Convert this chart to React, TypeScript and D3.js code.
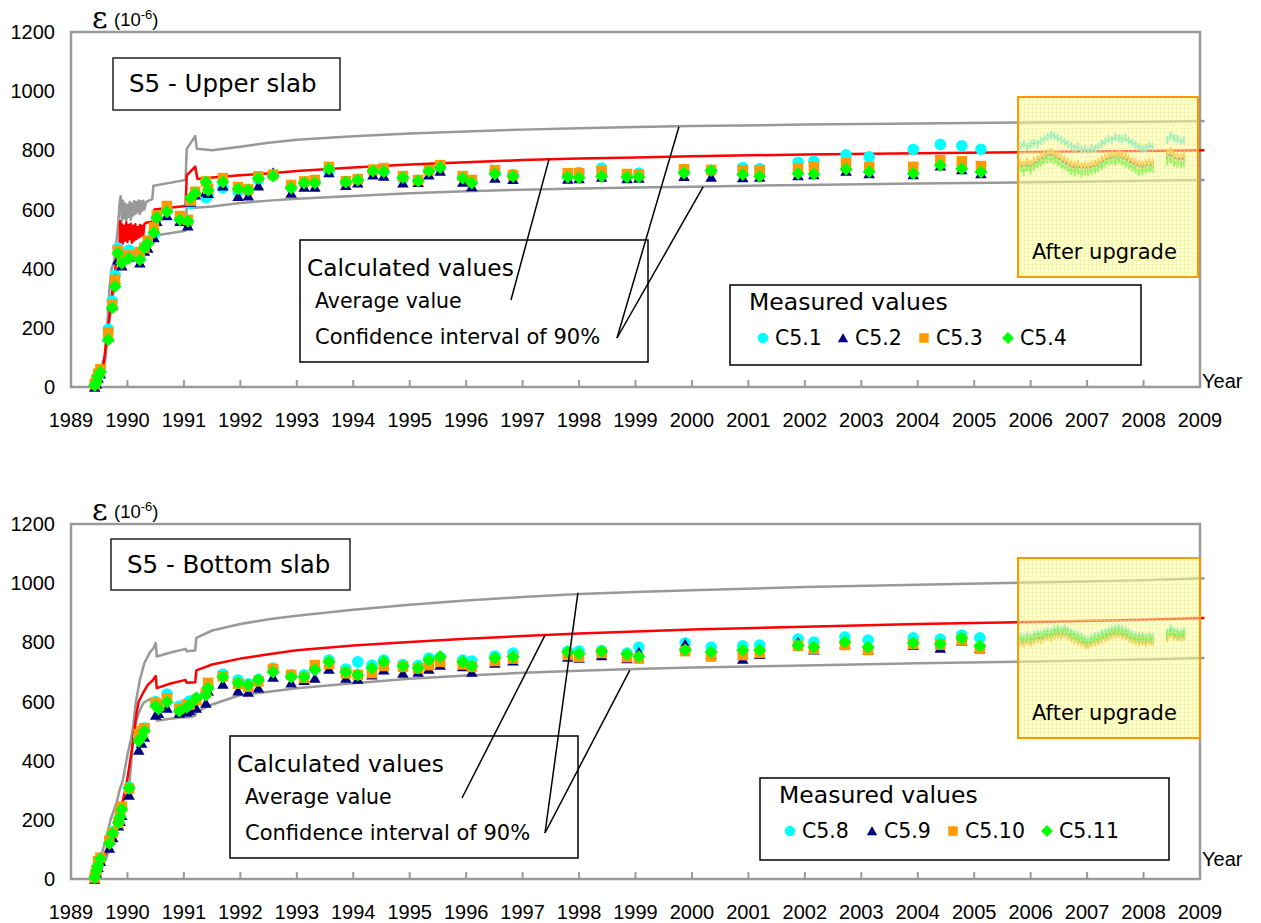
import React from 'react';
import * as d3 from 'd3';

// ---------- axis ----------
const yearTicks = [1989, 1990, 1991, 1992, 1993, 1994, 1995, 1996, 1997, 1998, 1999, 2000, 2001, 2002, 2003, 2004, 2005, 2006, 2007, 2008, 2009];
const valueTicks = [0, 200, 400, 600, 800, 1000, 1200];

// ---------- TOP PANEL: measured values ----------
const topYears = [1989.42, 1989.45, 1989.48, 1989.52, 1989.66, 1989.73, 1989.78, 1989.83, 1989.9, 1990.03, 1990.22, 1990.3, 1990.36, 1990.47, 1990.52, 1990.7, 1990.93, 1991.07, 1991.12, 1991.2, 1991.39, 1991.43, 1991.69, 1991.96, 1992.14, 1992.32, 1992.58, 1992.9, 1993.13, 1993.32, 1993.57, 1993.87, 1994.08, 1994.35, 1994.54, 1994.88, 1995.15, 1995.34, 1995.54, 1995.94, 1996.1, 1996.51, 1996.83, 1997.8, 1998.0, 1998.4, 1998.85, 1999.06, 1999.86, 2000.34, 2000.9, 2001.2, 2001.88, 2002.16, 2002.73, 2003.14, 2003.92, 2004.4, 2004.78, 2005.12];
const topC51 = [5, 20, 40, 55, 195, 290, 378, 470, 450, 463, 440, 475, 490, 515, 570, 600, 570, 555, 620, 650, 640, 650, 673, 660, 662, 700, 715, 675, 690, 695, 728, 690, 700, 730, 730, 705, 698, 730, 742, 710, 695, 728, 718, 715, 725, 740, 712, 723, 728, 730, 742, 738, 760, 763, 785, 778, 803, 820, 815, 804];
const topC52 = [0, 10, 30, 45, 170, 275, 365, 430, 410, 440, 420, 460, 470, 505, 560, 580, 560, 545, 625, 650, 660, 655, 680, 645, 646, 680, 725, 656, 676, 676, 725, 682, 690, 717, 713, 690, 692, 717, 730, 693, 678, 706, 702, 703, 705, 710, 705, 706, 712, 710, 708, 710, 715, 718, 730, 722, 718, 748, 735, 722];
const topC53 = [10, 25, 45, 60, 185, 280, 362, 460, 440, 445, 456, 470, 495, 540, 580, 612, 578, 565, 630, 660, 695, 670, 706, 676, 668, 712, 718, 683, 695, 700, 744, 696, 703, 735, 740, 713, 700, 733, 750, 713, 700, 733, 716, 723, 723, 730, 720, 718, 736, 734, 733, 733, 740, 744, 757, 744, 744, 767, 763, 747];
const topC54 = [5, 15, 35, 50, 160, 268, 340, 452, 418, 436, 430, 470, 485, 522, 573, 592, 565, 560, 640, 655, 693, 665, 693, 670, 666, 706, 713, 673, 690, 690, 738, 693, 700, 730, 728, 708, 696, 730, 742, 706, 690, 720, 712, 710, 707, 712, 710, 710, 723, 732, 718, 712, 722, 720, 736, 728, 722, 750, 738, 727];

// ---------- BOTTOM PANEL: measured values ----------
const botYears = [1989.42, 1989.45, 1989.48, 1989.52, 1989.68, 1989.74, 1989.84, 1989.87, 1989.9, 1990.03, 1990.2, 1990.25, 1990.3, 1990.5, 1990.55, 1990.7, 1990.92, 1991.05, 1991.1, 1991.22, 1991.39, 1991.43, 1991.69, 1991.96, 1992.14, 1992.32, 1992.58, 1992.9, 1993.13, 1993.32, 1993.57, 1993.87, 1994.08, 1994.33, 1994.54, 1994.88, 1995.15, 1995.34, 1995.54, 1995.94, 1996.1, 1996.51, 1996.83, 1997.8, 1998.0, 1998.4, 1998.85, 1999.06, 1999.88, 2000.34, 2000.9, 2001.2, 2001.88, 2002.16, 2002.71, 2003.12, 2003.92, 2004.4, 2004.78, 2005.1];
const botC58 = [5, 25, 50, 70, 125, 160, 195, 210, 240, 310, 480, 495, 510, 600, 590, 625, 585, 590, 602, 610, 630, 650, 693, 673, 660, 675, 713, 690, 690, 710, 740, 710, 734, 723, 740, 725, 722, 747, 750, 740, 737, 754, 764, 770, 771, 772, 764, 784, 798, 784, 788, 791, 811, 801, 818, 808, 815, 811, 825, 815];
const botC59 = [0, 20, 40, 60, 105, 140, 180, 195, 215, 284, 436, 460, 480, 554, 560, 578, 561, 565, 570, 578, 595, 635, 659, 636, 632, 646, 683, 663, 672, 679, 710, 679, 676, 690, 707, 696, 700, 710, 723, 718, 700, 730, 738, 750, 747, 755, 745, 767, 794, 760, 744, 760, 801, 775, 795, 775, 790, 781, 805, 780];
const botC510 = [5, 30, 60, 72, 130, 158, 190, 225, 245, 305, 490, 500, 510, 595, 585, 610, 575, 590, 590, 605, 630, 663, 685, 660, 650, 668, 710, 690, 680, 723, 727, 695, 690, 696, 720, 717, 712, 723, 734, 725, 717, 737, 745, 757, 751, 764, 750, 745, 770, 752, 757, 764, 788, 778, 791, 774, 794, 792, 808, 778];
const botC511 = [5, 28, 45, 68, 120, 155, 190, 210, 235, 307, 466, 480, 500, 585, 575, 598, 568, 581, 588, 612, 622, 646, 683, 663, 656, 673, 700, 683, 683, 707, 734, 700, 690, 713, 734, 720, 713, 740, 751, 734, 720, 747, 751, 767, 761, 770, 760, 752, 774, 767, 774, 774, 790, 784, 801, 784, 798, 794, 815, 788];

// ---------- after-upgrade continuous monitoring ----------
const monitorYears = [2005.82, 2005.88, 2005.94, 2006.0, 2006.06, 2006.12, 2006.18, 2006.24, 2006.3, 2006.36, 2006.42, 2006.48, 2006.54, 2006.6, 2006.66, 2006.72, 2006.78, 2006.84, 2006.9, 2006.96, 2007.02, 2007.08, 2007.14, 2007.2, 2007.26, 2007.32, 2007.38, 2007.44, 2007.5, 2007.56, 2007.62, 2007.68, 2007.74, 2007.8, 2007.86, 2007.92, 2007.98, 2008.04, 2008.1, 2008.16, 2008.42, 2008.48, 2008.54, 2008.6, 2008.66, 2008.72];
const topMonC51 = [815, 822, 812, 820, 826, 822, 832, 838, 845, 852, 848, 842, 836, 828, 820, 815, 808, 812, 803, 806, 800, 808, 804, 812, 822, 830, 838, 835, 845, 840, 838, 842, 832, 825, 818, 812, 805, 808, 815, 812, 835, 850, 842, 838, 830, 834];
const topMonC52 = [750, 745, 752, 748, 756, 762, 770, 776, 782, 786, 780, 774, 766, 760, 752, 746, 742, 744, 740, 742, 740, 745, 748, 752, 760, 768, 772, 778, 775, 780, 776, 770, 764, 758, 752, 748, 745, 750, 752, 750, 780, 786, 776, 772, 770, 774];
const topMonC53 = [758, 752, 762, 755, 765, 770, 778, 785, 790, 795, 788, 782, 775, 768, 760, 755, 750, 752, 746, 750, 748, 752, 755, 760, 768, 775, 780, 786, 782, 788, 784, 778, 772, 765, 760, 755, 752, 757, 760, 758, 790, 798, 785, 780, 778, 782];
const topMonC54 = [738, 728, 742, 732, 745, 752, 758, 765, 770, 772, 766, 760, 752, 745, 738, 730, 726, 732, 722, 728, 725, 730, 735, 740, 748, 755, 760, 765, 762, 768, 760, 755, 748, 742, 735, 728, 730, 735, 738, 736, 762, 770, 758, 755, 752, 756];
const botMonC58 = [820, 818, 824, 818, 826, 830, 829, 835, 838, 836, 844, 846, 842, 848, 840, 834, 828, 824, 818, 812, 808, 816, 820, 824, 830, 834, 838, 844, 846, 848, 844, 840, 834, 828, 824, 820, 822, 818, 824, 820, 834, 846, 838, 836, 834, 838];
const botMonC59 = [806, 802, 809, 804, 812, 816, 814, 820, 824, 822, 829, 832, 828, 834, 826, 820, 814, 809, 804, 798, 794, 802, 806, 809, 816, 820, 824, 829, 832, 834, 830, 826, 819, 814, 809, 806, 809, 804, 809, 806, 819, 832, 824, 822, 820, 824];
const botMonC510 = [800, 796, 803, 798, 806, 810, 808, 814, 818, 816, 822, 826, 822, 828, 820, 814, 808, 803, 798, 792, 788, 796, 800, 803, 810, 814, 818, 823, 826, 828, 824, 820, 813, 808, 803, 800, 803, 798, 803, 800, 813, 826, 818, 816, 814, 818];
const botMonC511 = [812, 808, 815, 810, 818, 822, 820, 826, 830, 828, 835, 838, 834, 840, 832, 826, 820, 815, 810, 805, 800, 808, 812, 815, 822, 826, 830, 835, 838, 840, 836, 832, 825, 820, 815, 812, 815, 810, 815, 812, 825, 838, 830, 828, 826, 830];

// ---------- calculated curves (top) ----------
const topAvgYears = [1989.4, 1989.5, 1989.56, 1989.6, 1989.64, 1989.68, 1989.72, 1989.76, 1989.8, 1989.84, 1989.86, 1989.87, 1989.88, 1989.9, 1989.92, 1989.94, 1989.96, 1989.98, 1990.0, 1990.02, 1990.04, 1990.06, 1990.08, 1990.1, 1990.12, 1990.14, 1990.16, 1990.18, 1990.2, 1990.22, 1990.24, 1990.26, 1990.28, 1990.3, 1990.33, 1990.4, 1990.47, 1990.48, 1990.75, 1991.03, 1991.05, 1991.2, 1991.24, 1991.5, 1992, 1992.5, 1993, 1994, 1995, 1996, 1997, 1998, 1999, 2000, 2002, 2004, 2006, 2008, 2009.08];
const topAvg = [0, 20, 60, 110, 180, 240, 300, 370, 420, 470, 480, 560, 490, 550, 485, 545, 495, 555, 490, 548, 500, 552, 488, 545, 495, 550, 500, 540, 505, 548, 510, 545, 512, 550, 555, 558, 560, 600, 606, 612, 715, 745, 703, 708, 716, 722, 730, 742, 752, 760, 767, 772, 776, 780, 786, 790, 794, 798, 800];
const topUpYears = [1989.4, 1989.5, 1989.56, 1989.6, 1989.64, 1989.68, 1989.72, 1989.76, 1989.8, 1989.84, 1989.86, 1989.88, 1989.9, 1989.92, 1989.94, 1989.96, 1989.98, 1990.0, 1990.02, 1990.04, 1990.06, 1990.08, 1990.1, 1990.12, 1990.14, 1990.16, 1990.18, 1990.2, 1990.22, 1990.24, 1990.26, 1990.28, 1990.3, 1990.33, 1990.38, 1990.44, 1990.46, 1990.75, 1991.03, 1991.05, 1991.2, 1991.23, 1991.5, 1992, 1992.5, 1993, 1994, 1995, 1996, 1997, 1998, 1999, 2000, 2002, 2004, 2006, 2008, 2009.08];
const topUp = [0, 40, 80, 110, 200, 330, 400, 420, 480, 560, 620, 645, 560, 630, 570, 620, 560, 615, 575, 625, 565, 620, 580, 628, 585, 625, 590, 630, 585, 628, 595, 630, 600, 625, 630, 635, 680, 690, 700, 805, 848, 805, 800, 812, 826, 836, 848, 857, 864, 870, 875, 879, 882, 887, 891, 894, 897, 899];
const topLowYears = [1989.4, 1989.5, 1989.56, 1989.6, 1989.64, 1989.68, 1989.72, 1989.76, 1989.8, 1989.84, 1989.86, 1989.88, 1989.9, 1989.92, 1989.94, 1989.96, 1989.98, 1990.0, 1990.02, 1990.04, 1990.06, 1990.08, 1990.1, 1990.12, 1990.14, 1990.16, 1990.18, 1990.2, 1990.22, 1990.24, 1990.26, 1990.28, 1990.3, 1990.33, 1990.4, 1990.46, 1990.48, 1990.75, 1991.03, 1991.05, 1991.2, 1991.5, 1992, 1992.5, 1993, 1994, 1995, 1996, 1997, 1998, 1999, 2000, 2002, 2004, 2006, 2008, 2009.08];
const topLow = [0, 15, 40, 80, 150, 220, 280, 330, 380, 400, 420, 460, 410, 455, 415, 450, 420, 460, 425, 455, 430, 465, 428, 460, 435, 470, 440, 465, 445, 470, 450, 475, 455, 478, 482, 485, 512, 520, 528, 612, 606, 610, 622, 630, 636, 646, 655, 662, 667, 671, 674, 677, 683, 688, 692, 697, 700];

// ---------- calculated curves (bottom) ----------
const botAvgYears = [1989.4, 1989.5, 1989.6, 1989.7, 1989.8, 1989.86, 1989.92, 1989.96, 1990.0, 1990.04, 1990.08, 1990.12, 1990.16, 1990.2, 1990.28, 1990.36, 1990.44, 1990.5, 1990.52, 1990.75, 1991.03, 1991.05, 1991.2, 1991.22, 1991.5, 1992, 1992.5, 1993, 1994, 1995, 1996, 1997, 1998, 1999, 2000, 2002, 2004, 2006, 2008, 2009.08];
const botAvg = [0, 30, 80, 135, 190, 230, 267, 300, 340, 390, 440, 500, 560, 600, 630, 656, 670, 686, 645, 660, 673, 663, 665, 705, 725, 745, 760, 773, 789, 801, 812, 821, 830, 837, 843, 853, 862, 869, 876, 882];
const botUpYears = [1989.4, 1989.5, 1989.6, 1989.7, 1989.81, 1989.86, 1989.92, 1990.0, 1990.06, 1990.1, 1990.15, 1990.22, 1990.3, 1990.4, 1990.46, 1990.5, 1990.52, 1990.75, 1991.03, 1991.05, 1991.2, 1991.22, 1991.5, 1992, 1992.5, 1993, 1994, 1995, 1996, 1997, 1998, 1999, 2000, 2002, 2004, 2006, 2008, 2009.08];
const botUp = [0, 60, 120, 200, 260, 300, 335, 420, 470, 514, 600, 673, 730, 767, 780, 798, 752, 765, 778, 770, 772, 815, 840, 862, 878, 890, 910, 927, 941, 953, 963, 970, 976, 987, 995, 1002, 1010, 1017];
const botLowYears = [1989.4, 1989.5, 1989.6, 1989.7, 1989.8, 1989.86, 1989.92, 1990.03, 1990.06, 1990.1, 1990.15, 1990.2, 1990.28, 1990.4, 1990.48, 1990.52, 1990.75, 1991.03, 1991.05, 1991.2, 1991.22, 1991.5, 1992, 1992.5, 1993, 1994, 1995, 1996, 1997, 1998, 1999, 2000, 2002, 2004, 2006, 2008, 2009.08];
const botLow = [0, 20, 60, 110, 160, 200, 258, 310, 380, 470, 530, 561, 595, 608, 612, 535, 542, 548, 546, 552, 565, 590, 622, 633, 645, 662, 677, 688, 697, 704, 710, 715, 722, 729, 735, 742, 747];

// ---------- labels ----------
const topSeriesNames = ['C5.1', 'C5.2', 'C5.3', 'C5.4'];
const botSeriesNames = ['C5.8', 'C5.9', 'C5.10', 'C5.11'];
const seriesColors = ['#00ffff', '#000080', '#ff9900', '#00ff00'];
const monitorColors = ['#2ee6f0', '#2a2a9a', '#ff9d10', '#22ee22'];
const seriesShapes = ['circle', 'triangle', 'square', 'diamond'];

const X0 = 71;
const X1 = 1200;
const xScale = d3.scaleLinear().domain([1989, 2009]).range([X0, X1]);

const SANS = "'DejaVu Sans', Verdana, sans-serif";
const ARIAL = "'Liberation Sans', Arial, sans-serif";

function markerPath(shape: string, s: number): string {
  if (shape === 'circle') {
    const p = d3.path();
    p.arc(0, 0, s * 0.55, 0, Math.PI * 2);
    return p.toString();
  }
  if (shape === 'triangle') {
    return `M0,${-s * 0.5}L${s * 0.55},${s * 0.45}L${-s * 0.55},${s * 0.45}Z`;
  }
  if (shape === 'square') {
    const h = s * 0.5;
    return `M${-h},${-h}H${h}V${h}H${-h}Z`;
  }
  const r = s * 0.62;
  return `M0,${-r}L${r},0L0,${r}L${-r},0Z`;
}

type PanelCfg = {
  top: number;
  bottom: number;
  years: number[];
  series: number[][];
  mon: number[][];
  avg: [number[], number[]];
  up: [number[], number[]];
  low: [number[], number[]];
  title: string;
  titleBox: [number, number, number, number];
  calcBox: [number, number, number, number];
  legendBox: [number, number, number, number];
  legendItemX: number[];
  names: string[];
  upgradeBox: [number, number, number, number];
  avgStart: [number, number];
  confStart: [number, number];
  avgAnchor: [number, number];
  upAnchor: [number, number];
  lowAnchor: [number, number];
  yearLabelY: number;
};

const panels: PanelCfg[] = [
  {
    top: 32,
    bottom: 387,
    years: topYears,
    series: [topC51, topC52, topC53, topC54],
    mon: [topMonC51, topMonC52, topMonC53, topMonC54],
    avg: [topAvgYears, topAvg],
    up: [topUpYears, topUp],
    low: [topLowYears, topLow],
    title: 'S5 - Upper slab',
    titleBox: [113, 58, 227, 52],
    calcBox: [300, 240, 348, 122],
    legendBox: [730, 285, 411, 80],
    legendItemX: [763, 843, 924, 1008],
    names: topSeriesNames,
    upgradeBox: [1018, 97, 180, 180],
    avgStart: [511, 300],
    confStart: [617, 338],
    avgAnchor: [1997.47, 771],
    upAnchor: [1999.77, 880],
    lowAnchor: [2000.2, 677],
    yearLabelY: 388,
  },
  {
    top: 524,
    bottom: 879,
    years: botYears,
    series: [botC58, botC59, botC510, botC511],
    mon: [botMonC58, botMonC59, botMonC510, botMonC511],
    avg: [botAvgYears, botAvg],
    up: [botUpYears, botUp],
    low: [botLowYears, botLow],
    title: 'S5 - Bottom slab',
    titleBox: [111, 539, 239, 51],
    calcBox: [230, 736, 348, 122],
    legendBox: [760, 778, 409, 82],
    legendItemX: [790, 872, 953, 1047],
    names: botSeriesNames,
    upgradeBox: [1018, 558, 182, 180],
    avgStart: [462, 798],
    confStart: [545, 833],
    avgAnchor: [1997.4, 825],
    upAnchor: [1997.98, 967],
    lowAnchor: [1998.9, 706],
    yearLabelY: 866,
  },
];

function segments(years: number[], vals: number[]): [number, number][][] {
  const segs: [number, number][][] = [];
  let cur: [number, number][] = [];
  years.forEach((y, i) => {
    if (cur.length && y - cur[cur.length - 1][0] > 0.15) {
      segs.push(cur);
      cur = [];
    }
    cur.push([y, vals[i]]);
  });
  if (cur.length) segs.push(cur);
  return segs;
}

function Panel({ cfg, idx }: { cfg: PanelCfg; idx: number }) {
  const y = d3.scaleLinear().domain([0, 1200]).range([cfg.bottom, cfg.top]);
  const line = d3
    .line<[number, number]>()
    .x((d) => xScale(d[0]))
    .y((d) => y(d[1]));
  const curve = (c: [number[], number[]]) => line(c[0].map((yr, i) => [yr, c[1][i]] as [number, number])) || '';
  const [ubx, uby, ubw, ubh] = cfg.upgradeBox;
  const patId = `grid${idx}`;
  return (
    <g>
      <defs>
        <pattern id={patId} width={4} height={4} patternUnits="userSpaceOnUse">
          <rect width={4} height={4} fill="#ffff99" fillOpacity={0.5} />
          <path d="M0,0.5H4M0.5,0V4" stroke="#e8e890" strokeWidth={0.8} strokeOpacity={0.45} />
        </pattern>
      </defs>
      {/* frame */}
      <rect x={X0} y={cfg.top} width={X1 - X0} height={cfg.bottom - cfg.top} fill="none" stroke="#9a9a9a" strokeWidth={2.5} />
      {/* x ticks */}
      {yearTicks.slice(1, -1).map((t) => (
        <line key={t} x1={xScale(t)} x2={xScale(t)} y1={cfg.bottom} y2={cfg.bottom - 7} stroke="#9a9a9a" strokeWidth={2} />
      ))}
      {/* y tick labels */}
      {valueTicks.map((v) => (
        <text key={v} x={55} y={y(v) + 7} textAnchor="end" fontFamily={ARIAL} fontSize={20} fill="#000">
          {v}
        </text>
      ))}
      {/* x tick labels */}
      {yearTicks.map((t) => (
        <text key={t} x={xScale(t)} y={cfg.bottom + 40} textAnchor="middle" fontFamily={ARIAL} fontSize={20} fill="#000">
          {t}
        </text>
      ))}
      <text x={X1 + 2} y={cfg.yearLabelY} fontFamily={ARIAL} fontSize={20} fill="#000">
        Year
      </text>
      {/* epsilon label */}
      <text x={92} y={cfg.top - 4} fontFamily="'DejaVu Serif', 'Liberation Serif', serif" fontSize={30} fill="#000">
        ε
      </text>
      <text x={114} y={cfg.top - 6} fontFamily={ARIAL} fontSize={18.5} fill="#000">
        (10
        <tspan fontSize={13} dy={-7}>-6</tspan>
        <tspan dy={7}>)</tspan>
      </text>

      {/* calculated curves */}
      <path d={curve(cfg.up)} fill="none" stroke="#999999" strokeWidth={2.5} strokeLinejoin="round" />
      <path d={curve(cfg.low)} fill="none" stroke="#999999" strokeWidth={2.5} strokeLinejoin="round" />
      <path d={curve(cfg.avg)} fill="none" stroke="#ff0000" strokeWidth={2.5} strokeLinejoin="round" />

      {/* measured points */}
      {cfg.series.map((vals, si) => (
        <g key={si}>
          {vals.map((v, i) => (
            <path
              key={i}
              d={markerPath(seriesShapes[si], 10.5)}
              transform={`translate(${xScale(cfg.years[i])},${y(v)})`}
              fill={seriesColors[si]}
            />
          ))}
        </g>
      ))}

      {/* continuous monitoring after upgrade */}
      {cfg.mon.map((vals, si) => (
        <g key={si}>
          {segments(monitorYears, vals).map((seg, k) => (
            <path key={k} d={line(seg) || ''} fill="none" stroke={monitorColors[si]} strokeWidth={2} />
          ))}
          {vals.map((v, i) => (
            <rect
              key={i}
              x={xScale(monitorYears[i]) - 1}
              y={y(v) - 4}
              width={2}
              height={8}
              fill={monitorColors[si]}
            />
          ))}
        </g>
      ))}

      {/* upgrade box overlay */}
      <rect x={ubx} y={uby} width={ubw} height={ubh} fill={`url(#${patId})`} stroke="#ff9900" strokeWidth={2} />
      <text x={ubx + 14} y={uby + ubh - 18} fontFamily={SANS} fontSize={21} fill="#000">
        After upgrade
      </text>

      {/* title box */}
      <rect x={cfg.titleBox[0]} y={cfg.titleBox[1]} width={cfg.titleBox[2]} height={cfg.titleBox[3]} fill="#fff" stroke="#222" strokeWidth={1.5} />
      <text x={cfg.titleBox[0] + 16} y={cfg.titleBox[1] + 34} fontFamily={SANS} fontSize={24.5} fill="#000">
        {cfg.title}
      </text>

      {/* calculated values box */}
      <rect x={cfg.calcBox[0]} y={cfg.calcBox[1]} width={cfg.calcBox[2]} height={cfg.calcBox[3]} fill="#fff" stroke="#000" strokeWidth={1.5} />
      <text x={cfg.calcBox[0] + 7} y={cfg.calcBox[1] + 36} fontFamily={SANS} fontSize={23.3} fill="#000">
        Calculated values
      </text>
      <text x={cfg.calcBox[0] + 15} y={cfg.calcBox[1] + 68} fontFamily={SANS} fontSize={20.5} fill="#000">
        Average value
      </text>
      <text x={cfg.calcBox[0] + 15} y={cfg.calcBox[1] + 104} fontFamily={SANS} fontSize={21} fill="#000">
        Confidence interval of 90%
      </text>
      {/* leader lines */}
      <line x1={cfg.avgStart[0]} y1={cfg.avgStart[1]} x2={xScale(cfg.avgAnchor[0])} y2={y(cfg.avgAnchor[1])} stroke="#000" strokeWidth={1.5} />
      <line x1={cfg.confStart[0]} y1={cfg.confStart[1]} x2={xScale(cfg.upAnchor[0])} y2={y(cfg.upAnchor[1])} stroke="#000" strokeWidth={1.5} />
      <line x1={cfg.confStart[0]} y1={cfg.confStart[1]} x2={xScale(cfg.lowAnchor[0])} y2={y(cfg.lowAnchor[1])} stroke="#000" strokeWidth={1.5} />

      {/* legend */}
      <rect x={cfg.legendBox[0]} y={cfg.legendBox[1]} width={cfg.legendBox[2]} height={cfg.legendBox[3]} fill="#fff" stroke="#000" strokeWidth={1.5} />
      <text x={cfg.legendBox[0] + 19} y={cfg.legendBox[1] + 25} fontFamily={SANS} fontSize={23.5} fill="#000">
        Measured values
      </text>
      {cfg.names.map((n, i) => (
        <g key={n}>
          <path d={markerPath(seriesShapes[i], 9.5)} transform={`translate(${cfg.legendItemX[i]},${cfg.legendBox[1] + 53})`} fill={seriesColors[i]} />
          <text x={cfg.legendItemX[i] + 12} y={cfg.legendBox[1] + 60} fontFamily={SANS} fontSize={20.5} fill="#000">
            {n}
          </text>
        </g>
      ))}
    </g>
  );
}

export default function App() {
  return (
    <div style={{ position: 'absolute', left: 0, top: 0, width: 1261, height: 923, background: '#fff' }}>
      <svg width={1261} height={923} viewBox="0 0 1261 923" style={{ display: 'block' }}>
        <rect width={1261} height={923} fill="#fff" />
        {panels.map((p, i) => (
          <Panel key={i} cfg={p} idx={i} />
        ))}
      </svg>
    </div>
  );
}
